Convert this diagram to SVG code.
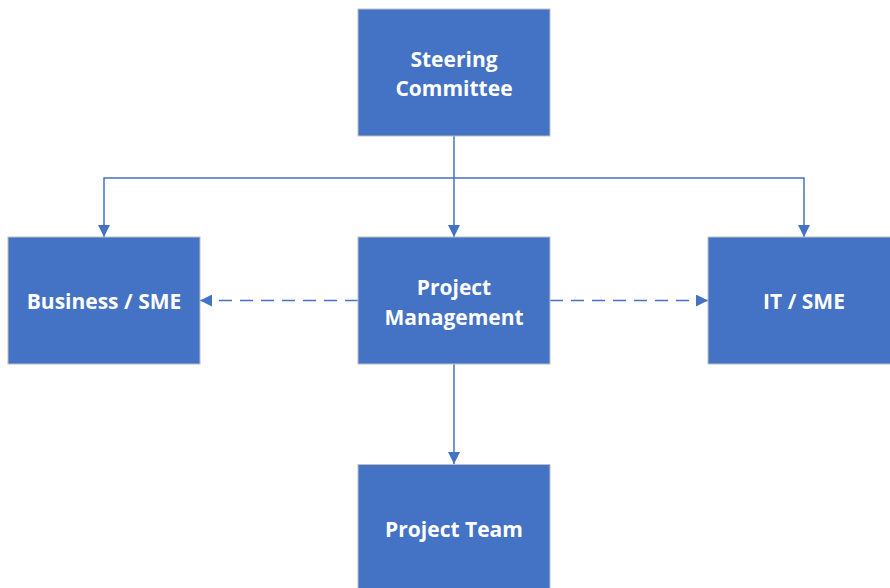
<svg xmlns="http://www.w3.org/2000/svg" width="890" height="588" viewBox="0 0 890 588">
  <defs>
    <marker id="arrow" viewBox="0 0 12 12" refX="12" refY="6" markerWidth="12" markerHeight="12" markerUnits="userSpaceOnUse" orient="auto">
      <path d="M0,0 L12,6 L0,12 Z" fill="#4472c4"/>
    </marker>
    <style>
      .box { fill: #4472c4; stroke: #bfbfbf; stroke-width: 1; }
      .label { fill: #ffffff; font-family: "Open Sans", "Liberation Sans", sans-serif; font-weight: bold; font-size: 21px; text-anchor: middle; dominant-baseline: central; }
      .link { fill: none; stroke: #4472c4; stroke-width: 1.5; }
      .dashed { stroke-dasharray: 13 8; }
    </style>
  </defs>
  <rect width="890" height="588" fill="#ffffff"/>

  <!-- connectors -->
  <g id="connectors">
    <path class="link" d="M454,136 V237" marker-end="url(#arrow)"/>
    <path class="link" d="M454,178 H104 V237" marker-end="url(#arrow)"/>
    <path class="link" d="M454,178 H804 V237" marker-end="url(#arrow)"/>
    <path class="link" d="M454,364 V464" marker-end="url(#arrow)"/>
    <path class="link dashed" d="M358,300.5 H200" marker-end="url(#arrow)"/>
    <path class="link dashed" d="M550,300.5 H708" marker-end="url(#arrow)"/>
  </g>

  <!-- nodes -->
  <g id="steering">
    <rect class="box" x="358" y="9" width="192" height="127"/>
    <text class="label" x="454" y="59">Steering</text>
    <text class="label" x="454" y="88">Committee</text>
  </g>
  <g id="business">
    <rect class="box" x="8" y="237" width="192" height="127"/>
    <text class="label" x="104" y="301">Business / SME</text>
  </g>
  <g id="pm">
    <rect class="box" x="358" y="237" width="192" height="127"/>
    <text class="label" x="454" y="287">Project</text>
    <text class="label" x="454" y="317">Management</text>
  </g>
  <g id="it">
    <rect class="box" x="708" y="237" width="192" height="127"/>
    <text class="label" x="804" y="301">IT / SME</text>
  </g>
  <g id="team">
    <rect class="box" x="358" y="464.5" width="192" height="127"/>
    <text class="label" x="454" y="529">Project Team</text>
  </g>
</svg>
